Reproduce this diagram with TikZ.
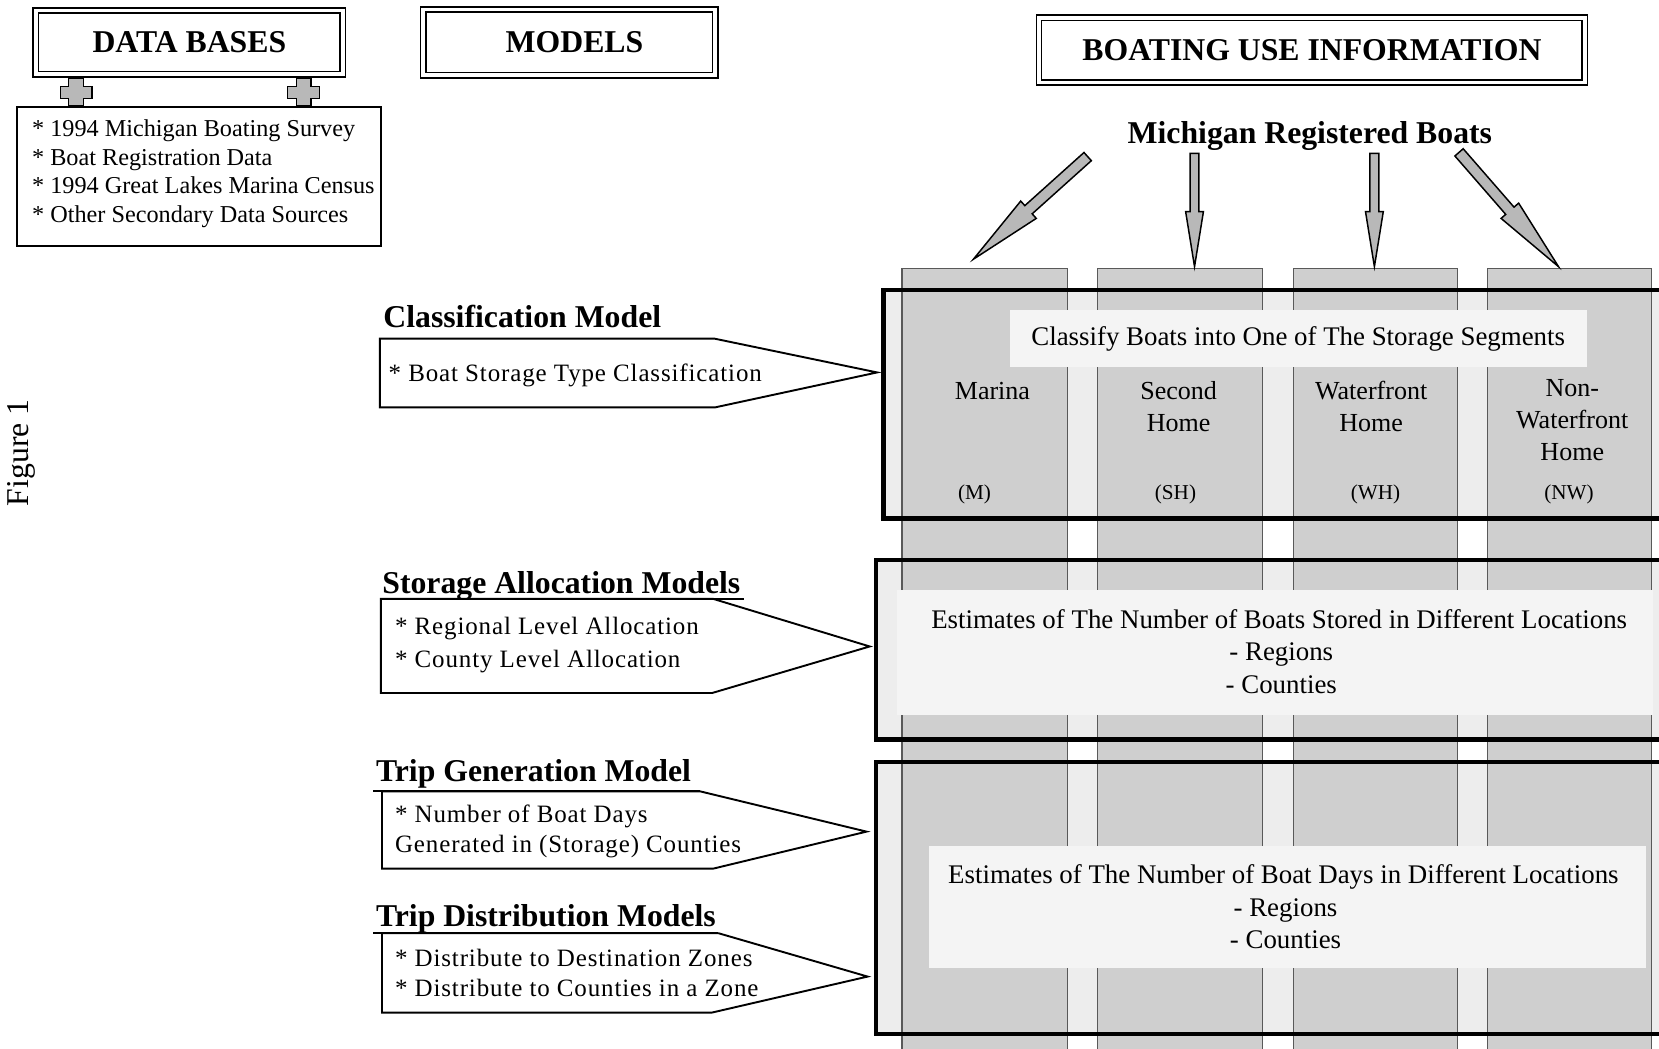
\documentclass[tikz,border=0pt]{standalone}
\usepackage{fontspec}
\setmainfont{Liberation Serif}
\newfontfamily\spacedfont[LetterSpace=3.5]{Liberation Serif}
\usetikzlibrary{calc}
\definecolor{colgray}{gray}{0.81}
\definecolor{boxfill}{gray}{0.93}
\definecolor{bandfill}{gray}{0.955}
\definecolor{arrgray}{gray}{0.72}
\definecolor{edgegray}{gray}{0.35}

% tail, tip, shaft half width, head half width, head length
\newcommand\blockarr[5]{%
  \coordinate (#2-hb) at ($(#2)!#5!(#1)$);
  \filldraw[arrowbody]
    ($(#1)!#3!90:(#2)$) -- ($(#2-hb)!#3!-90:(#1)$) -- ($(#2-hb)!#4!-90:(#1)$) -- (#2)
    -- ($(#2-hb)!#4!90:(#1)$) -- ($(#2-hb)!#3!90:(#1)$) -- ($(#1)!#3!-90:(#2)$) -- cycle;}

\begin{document}
\begin{tikzpicture}[x=0.5pt,y=-0.5pt,
  hdrbox/.style={draw, double=white, double distance=1.8pt, line width=0.75pt, inner sep=0,
    font=\bfseries\fontsize{15}{18}\selectfont},
  srcbox/.style={draw, line width=0.8pt, inner sep=0},
  srctext/.style={anchor=base west, inner sep=0, font=\fontsize{11.45}{13.5}\selectfont},
  plusicon/.style={fill=arrgray, draw=black, line width=0.6pt},
  arrowbody/.style={fill=arrgray, draw=black, line width=0.7pt, line join=miter},
  colbox/.style={fill=colgray, draw=edgegray, line width=0.5pt, inner sep=0, anchor=north west,
    minimum height=380pt},
  bigbox/.style={draw=black, line width=2pt, inner sep=0, anchor=north west},
  pent/.style={draw=black, fill=white, line width=0.9pt, line join=miter},
  uline/.style={draw=black, line width=0.9pt},
  mtitle/.style={anchor=base west, inner sep=0, font=\bfseries\fontsize{15}{18}\selectfont},
  mtext/.style={anchor=base west, inner sep=0, font=\spacedfont\fontsize{11.8}{14}\selectfont},
  seg/.style={anchor=base, inner sep=0, font=\fontsize{12.3}{15}\selectfont},
  abbr/.style={anchor=base, inner sep=0, font=\fontsize{10}{12}\selectfont},
  est/.style={anchor=base, inner sep=0, font=\fontsize{12.7}{15}\selectfont},
  bigtitle/.style={anchor=base, inner sep=0, font=\bfseries\fontsize{15}{18}\selectfont}
]
\useasboundingbox (0,0) rectangle (1568,991);

% ---------- header boxes ----------
\node[hdrbox, minimum width=145pt, minimum height=30pt] (db) at (179,40) {DATA BASES};
\node[hdrbox, minimum width=138pt, minimum height=31pt] (models) at (538,40) {\hspace*{5pt}MODELS};
\node[hdrbox, minimum width=258pt, minimum height=30.5pt] (bui) at (1240,47.5) {BOATING USE INFORMATION};

% ---------- data sources ----------
\node[srcbox, anchor=north west, minimum width=172pt, minimum height=66pt] (src) at (15,100) {};
\foreach \cx in {72,287}{
  \begin{scope}[shift={(\cx,87)}]
    \filldraw[plusicon] (-7,-13) -- (7,-13) -- (7,-5) -- (15,-5) -- (15,6) -- (7,6) -- (7,13)
      -- (-7,13) -- (-7,6) -- (-15,6) -- (-15,-5) -- (-7,-5) -- cycle;
  \end{scope}}
\node[srctext] (s1) at (30,129) {* 1994 Michigan Boating Survey};
\node[srctext] (s2) at (30,156) {* Boat Registration Data};
\node[srctext] (s3) at (30,183) {* 1994 Great Lakes Marina Census};
\node[srctext] (s4) at (30,210) {* Other Secondary Data Sources};

% ---------- Figure label ----------
\node[rotate=90, inner sep=0, font=\fontsize{15}{18}\selectfont] (fig) at (20,428) {Figure 1};

% ---------- right panel: fills ----------
\fill[boxfill] (833,272) rectangle (1590,488);
\fill[boxfill] (826,527) rectangle (1590,697);
\fill[boxfill] (826,718) rectangle (1590,975);

\node[colbox, minimum width=78pt] (col1) at (852,253) {};
\node[colbox, minimum width=78pt] (col2) at (1037,253) {};
\node[colbox, minimum width=77.5pt] (col3) at (1222,253) {};
\node[colbox, minimum width=77.5pt] (col4) at (1405,253) {};

\fill[bandfill] (955,293) rectangle (1500,347);
\fill[bandfill] (848,558) rectangle (1562,676);
\fill[bandfill] (878,800) rectangle (1556,915);

\node[bigbox, minimum width=378.5pt, minimum height=108pt] (boxA) at (833,272) {};
\node[bigbox, minimum width=382pt, minimum height=85pt] (boxB) at (826,527) {};
\node[bigbox, minimum width=382pt, minimum height=128.5pt] (boxC) at (826,718) {};

% ---------- texts in right panel ----------
\node[bigtitle] (mrb) at (1238,136) {Michigan Registered Boats};
\node[est] (cls) at (1227,327) {Classify Boats into One of The Storage Segments};

\node[seg] (m1) at (938,378) {Marina};
\node[seg] (sh1) at (1114,378) {Second};
\node[seg] (sh2) at (1114,408) {Home};
\node[seg] (wh1) at (1296,378) {Waterfront};
\node[seg] (wh2) at (1296,408) {Home};
\node[seg] (nw1) at (1486,375) {Non-};
\node[seg] (nw2) at (1486,405) {Waterfront};
\node[seg] (nw3) at (1486,435) {Home};
\node[abbr] (m) at (921,472) {(M)};
\node[abbr] (sh) at (1111,472) {(SH)};
\node[abbr] (wh) at (1300,472) {(WH)};
\node[abbr] (nw) at (1483,472) {(NW)};

\node[est] (eb1) at (1209,594) {Estimates of The Number of Boats Stored in Different Locations};
\node[est] (eb2) at (1211,624) {- Regions};
\node[est] (eb3) at (1211,655) {- Counties};

\node[est] (ed1) at (1213,835) {Estimates of The Number of Boat Days in Different Locations};
\node[est] (ed2) at (1215,866) {- Regions};
\node[est] (ed3) at (1215,896) {- Counties};

% ---------- arrows from Michigan Registered Boats ----------
\coordinate (t1) at (1028,148); \coordinate (h1) at (920,245);
\coordinate (t2) at (1129,145); \coordinate (h2) at (1129,252);
\coordinate (t3) at (1299,145); \coordinate (h3) at (1299,252);
\coordinate (t4) at (1379,144); \coordinate (h4) at (1473,252);
\blockarr{t1}{h1}{2.6pt}{5.5pt}{35pt}
\blockarr{t2}{h2}{2.1pt}{4.2pt}{26pt}
\blockarr{t3}{h3}{2.1pt}{4.2pt}{26pt}
\blockarr{t4}{h4}{2.6pt}{5.5pt}{35pt}

% ---------- model pentagons ----------
\draw[pent] (359,320) -- (675,320) -- (829,352) -- (676,385) -- (359,385) -- cycle;
\draw[pent] (360,566) -- (674,566) -- (822,611) -- (673,655) -- (360,655) -- cycle;
\draw[pent] (361,748) -- (662,748) -- (819,786) -- (674,821) -- (361,821) -- cycle;
\draw[pent] (361,882) -- (679,882) -- (820,923) -- (673,957) -- (361,957) -- cycle;

\node[mtitle] (ttl1) at (362,310) {Classification Model};
\node[mtitle] (ttl2) at (361,561) {Storage Allocation Models};
\node[mtitle] (ttl3) at (355,739) {Trip Generation Model};
\node[mtitle] (ttl4) at (355,876) {Trip Distribution Models};
\draw[uline] (361,566) -- (703,566);
\draw[uline] (353,748) -- (662,748);
\draw[uline] (353,882) -- (679,882);

\node[mtext] (p1) at (367,361) {* Boat Storage Type Classification};
\node[mtext] (p2a) at (373,600) {* Regional Level Allocation};
\node[mtext] (p2b) at (373,631) {* County Level Allocation};
\node[mtext] (p3a) at (373,777) {* Number of Boat Days};
\node[mtext] (p3b) at (373,806) {Generated in (Storage) Counties};
\node[mtext] (p4a) at (373,913) {* Distribute to Destination Zones};
\node[mtext] (p4b) at (373,942) {* Distribute to Counties in a Zone};
\end{tikzpicture}
\end{document}
